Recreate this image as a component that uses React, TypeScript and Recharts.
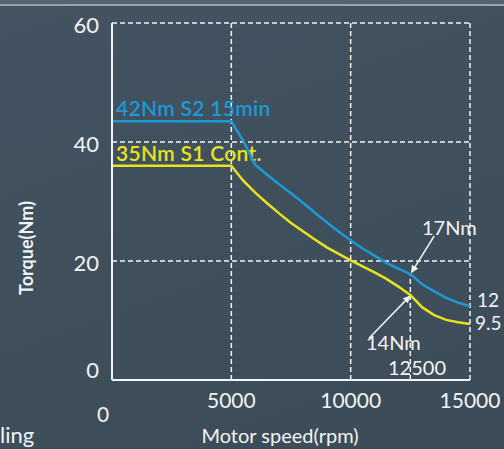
import React from 'react';
import { LineChart, Line, XAxis, YAxis, CartesianGrid, ReferenceLine } from 'recharts';

// rpm / Nm
const speed = [0, 5000, 5500, 6000, 6500, 7000, 7500, 8000, 8500, 9000, 9500, 10000, 10500, 11000, 11500, 12000, 12500, 13000, 13500, 14000, 14500, 15000];
const s2Torque = [43.5, 43.5, 40.2, 36.2, 34.5, 32.9, 31.4, 29.8, 28.1, 26.5, 24.9, 23.5, 22.1, 20.9, 19.7, 18.7, 17.8, 16.1, 14.9, 13.8, 13.0, 12.4];
const s1Torque = [36, 36, 33.5, 31.5, 29.7, 28.0, 26.4, 25.0, 23.6, 22.3, 21.2, 20.1, 19.1, 18.1, 17.0, 15.7, 14.3, 12.2, 10.9, 10.1, 9.7, 9.4];

const xTicks = [0, 5000, 10000, 15000];
const yTicks = [0, 20, 40, 60];

const s2Data = speed.map((rpm, i) => ({ rpm, torque: s2Torque[i] }));
const s1Data = speed.map((rpm, i) => ({ rpm, torque: s1Torque[i] }));

const FONT = 'Lato, "DejaVu Sans", sans-serif';
const BLUE = '#1c9ad8';
const YELLOW = '#e9e21e';
const WHITE = '#f2f4f5';

const XTick = (props: any) => {
  const { x, y, payload } = props;
  const isZero = payload.value === 0;
  return (
    <text
      x={isZero ? x - 9 : x}
      y={isZero ? y + 34 : y + 20}
      textAnchor="middle"
      fill={WHITE}
      fontSize={21}
      fontFamily={FONT}
    >
      {payload.value}
    </text>
  );
};

const YTick = (props: any) => {
  const { x, y, payload } = props;
  const dy = payload.value === 0 ? -10 : 2;
  return (
    <text x={x} y={y + dy} dy="0.35em" textAnchor="end" fill={WHITE} fontSize={22} fontFamily={FONT}>
      {payload.value}
    </text>
  );
};

export default function App() {
  return (
    <div
      style={{
        position: 'absolute',
        left: 0,
        top: 0,
        width: 504,
        height: 449,
        overflow: 'hidden',
        background: 'linear-gradient(160deg, #435361 0%, #3f4f5c 50%, #3c4b58 100%)',
      }}
    >
      <div style={{ position: 'absolute', left: 0, top: 0, width: 504, height: 4, background: '#56636e' }} />
      <div style={{ position: 'absolute', left: 0, top: 4, width: 504, height: 2, background: '#9aa3aa' }} />
      <LineChart width={504} height={449} data={s2Data} margin={{ top: 23, right: 34, bottom: 0, left: 0 }}>
        <defs>
          <marker id="arrow" viewBox="0 0 10 10" refX="9" refY="5" markerWidth="5" markerHeight="5" orient="auto">
            <path d="M0,0 L10,5 L0,10 z" fill={WHITE} />
          </marker>
        </defs>
        <CartesianGrid stroke={WHITE} strokeWidth={1.5} strokeDasharray="5 3" fill="none" />
        <XAxis
          dataKey="rpm"
          type="number"
          domain={[0, 15000]}
          ticks={xTicks}
          height={69}
          tickLine={false}
          axisLine={{ stroke: WHITE, strokeWidth: 2 }}
          tick={<XTick />}
          interval={0}
        />
        <YAxis
          dataKey="torque"
          type="number"
          domain={[0, 60]}
          ticks={yTicks}
          width={112}
          tickSize={0}
          tickMargin={13}
          tickLine={false}
          axisLine={{ stroke: WHITE, strokeWidth: 2 }}
          tick={<YTick />}
          interval={0}
        />
        <ReferenceLine
          segment={[{ x: 12500, y: 0 }, { x: 12500, y: 17.8 }]}
          stroke={WHITE}
          strokeWidth={1.5}
          strokeDasharray="5 3"
        />
        <ReferenceLine
          segment={[{ x: 13500, y: 24.2 }, { x: 12550, y: 18.1 }]}
          stroke={WHITE}
          strokeWidth={1.5}
          markerEnd="url(#arrow)"
        />
        <ReferenceLine
          segment={[{ x: 10770, y: 7 }, { x: 12480, y: 14.1 }]}
          stroke={WHITE}
          strokeWidth={1.5}
          markerEnd="url(#arrow)"
        />
        <Line data={s2Data} dataKey="torque" type="linear" stroke={BLUE} strokeWidth={2.5} dot={false} isAnimationActive={false} />
        <Line data={s1Data} dataKey="torque" type="linear" stroke={YELLOW} strokeWidth={2.5} dot={false} isAnimationActive={false} />
        <text x={116} y={116} fill={BLUE} fontSize={21} fontFamily={FONT} fontWeight={600} letterSpacing={0.3}>42Nm S2 15min</text>
        <text x={116} y={161} fill={YELLOW} fontSize={21} fontFamily={FONT} fontWeight={600} letterSpacing={0.3}>35Nm S1 Cont.</text>
        <text x={422} y={235} fill={WHITE} fontSize={20} fontFamily={FONT}>17Nm</text>
        <text x={366} y={350} fill={WHITE} fontSize={20} fontFamily={FONT}>14Nm</text>
        <text x={388} y={375} fill={WHITE} fontSize={20} fontFamily={FONT}>12500</text>
        <text x={477} y={307} fill={WHITE} fontSize={19} fontFamily={FONT}>12</text>
        <text x={475} y={330} fill={WHITE} fontSize={19} fontFamily={FONT}>9.5</text>
        <text x={280} y={443} textAnchor="middle" fill={WHITE} fontSize={20} fontFamily={FONT}>Motor speed(rpm)</text>
        <text
          x={33}
          y={248}
          transform="rotate(-90 33 248)"
          textAnchor="middle"
          fill={WHITE}
          fontSize={18}
          fontWeight={700}
          fontFamily={FONT}
        >
          Torque(Nm)
        </text>
        <text x={0} y={443} fill={WHITE} fontSize={22} fontFamily={FONT}>ling</text>
      </LineChart>
    </div>
  );
}
